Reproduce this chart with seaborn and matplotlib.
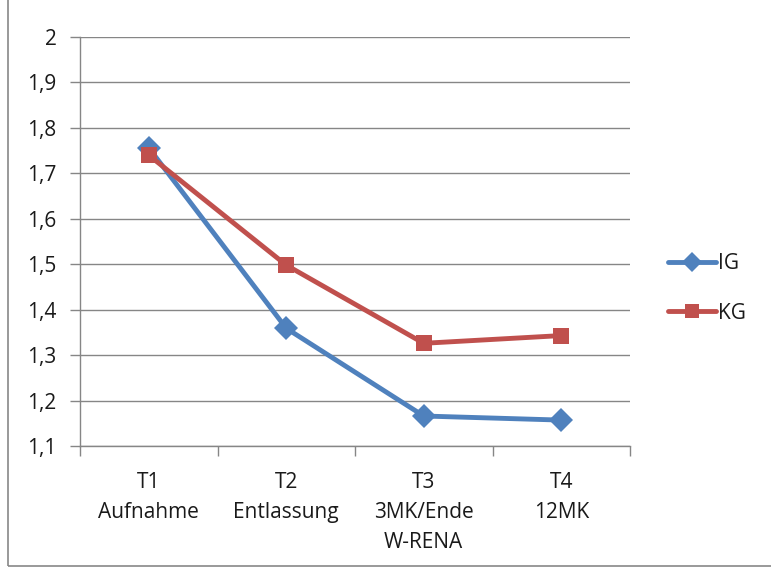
import matplotlib
matplotlib.use("Agg")
import matplotlib.pyplot as plt
import numpy as np
import pandas as pd
import seaborn as sns
from matplotlib.ticker import FuncFormatter, FixedLocator

# Daten
zeitpunkte = ["T1\nAufnahme", "T2\nEntlassung", "T3\n3MK/Ende\nW-RENA", "T4\n12MK"]
ig_werte = [1.756, 1.359, 1.166, 1.157]
kg_werte = [1.740, 1.498, 1.326, 1.343]
gruppen = ["IG", "KG"]
y_ticks = [1.1, 1.2, 1.3, 1.4, 1.5, 1.6, 1.7, 1.8, 1.9, 2.0]

df = pd.DataFrame({
    "zeit": list(range(len(zeitpunkte))) * 2,
    "wert": ig_werte + kg_werte,
    "gruppe": ["IG"] * len(ig_werte) + ["KG"] * len(kg_werte),
})

sns.set_style("white")
plt.rcParams["font.family"] = ["Open Sans", "DejaVu Sans"]
plt.rcParams["text.color"] = "#1a1a1a"

fig = plt.figure(figsize=(7.71, 5.72), dpi=100)
ax = fig.add_axes([80 / 771, 126 / 572, 550 / 771, 409 / 572])

farben = {"IG": "#4F81BD", "KG": "#C0504D"}
marker = {"IG": "D", "KG": "s"}
sns.lineplot(data=df, x="zeit", y="wert", hue="gruppe", style="gruppe",
             palette=farben, markers=marker, dashes=False, linewidth=3.5,
             markersize=12, markeredgewidth=0, ax=ax)

ax.set_xlim(-0.5, len(zeitpunkte) - 0.5)
ax.set_ylim(1.1, 2.0)
ax.yaxis.set_major_locator(FixedLocator(y_ticks))
ax.yaxis.set_major_formatter(FuncFormatter(lambda v, p: f"{v:g}".replace(".", ",")))
ax.grid(axis="y", color="#868686", linewidth=1)
ax.set_axisbelow(True)

# Kategorie-Beschriftungen in der Mitte, Teilstriche an den Grenzen
ax.set_xticks(range(len(zeitpunkte)))
ax.set_xticklabels(zeitpunkte, fontsize=15, linespacing=1.55, va="top")
ax.tick_params(axis="x", which="major", length=0, pad=19, labelcolor="#1a1a1a")
ax.set_xticks(np.arange(-0.5, len(zeitpunkte)), minor=True)
ax.tick_params(axis="x", which="minor", length=7, color="#868686", width=1, direction="out")
ax.tick_params(axis="y", length=7, color="#868686", width=1, direction="out",
               labelsize=15, labelcolor="#1a1a1a", pad=10)
ax.xaxis.set_ticks_position("bottom")
ax.yaxis.set_ticks_position("left")

for s in ["top", "right"]:
    ax.spines[s].set_visible(False)
for s in ["left", "bottom"]:
    ax.spines[s].set_color("#868686")
    ax.spines[s].set_linewidth(1)

ax.set_xlabel("")
ax.set_ylabel("")

handles, labels = ax.get_legend_handles_labels()
for h in handles:
    h.set_markersize(10)
ax.legend(handles, labels, loc="center left", bbox_to_anchor=(1.035, 0.385),
          frameon=False, fontsize=15, handlelength=2.3, labelspacing=1.35,
          handletextpad=0.1)

# Rahmen um die Grafik
fig.patches.append(plt.Rectangle((8 / 771, 6 / 572), 1.2, 1.2, transform=fig.transFigure,
                                 fill=False, edgecolor="#888888", linewidth=1.2))

fig.savefig("out.png", dpi=100)
